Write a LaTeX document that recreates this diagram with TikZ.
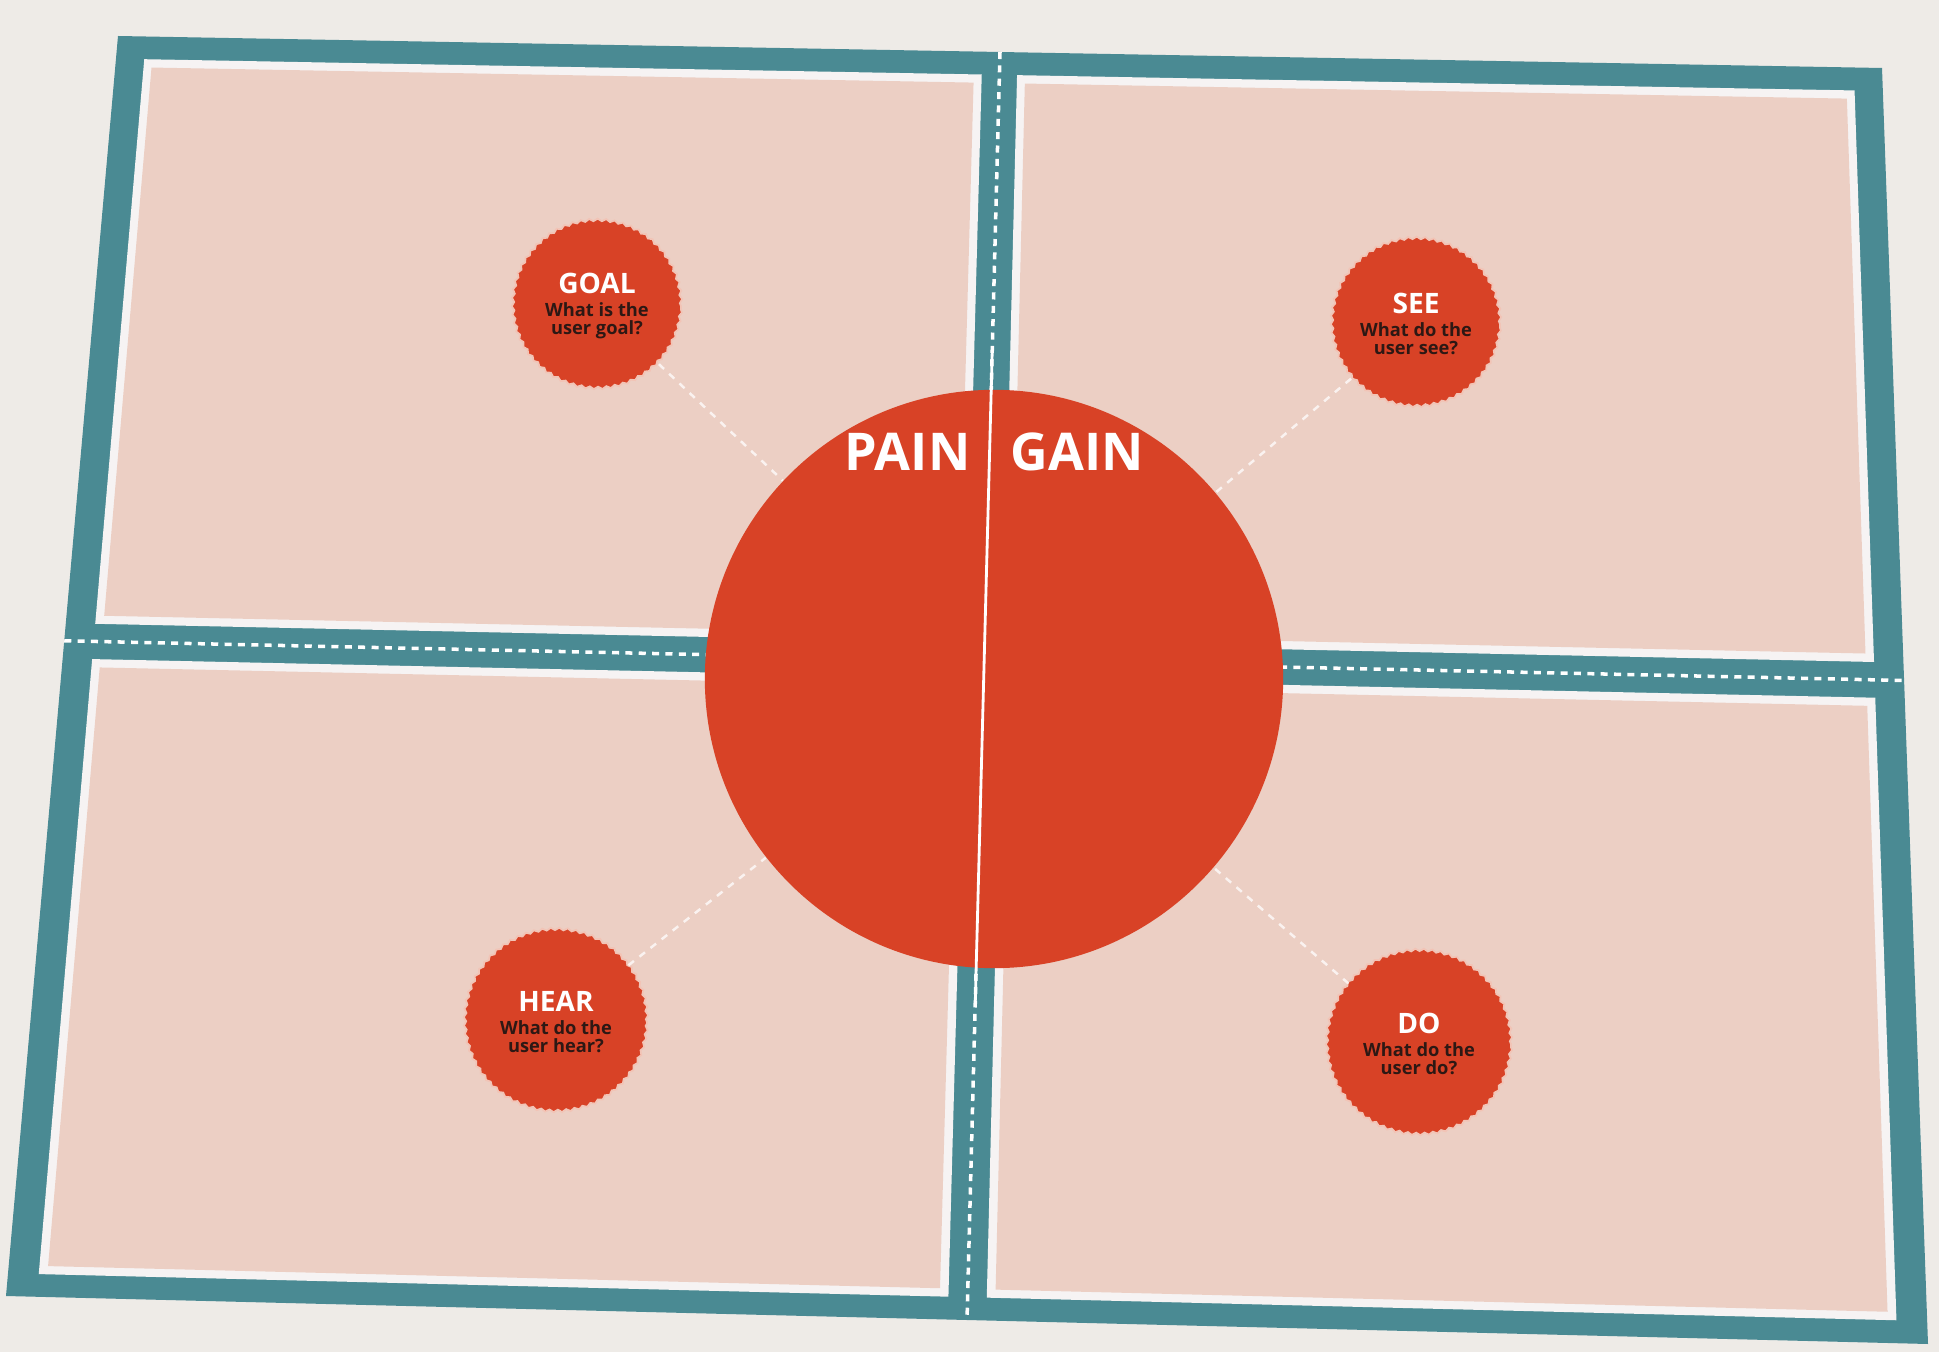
\documentclass[tikz,border=0pt]{standalone}
\usepackage{fontspec}
\setmainfont{Open Sans}
\usepackage{tikz}
\usetikzlibrary{positioning, calc, decorations.pathmorphing}

\definecolor{wallbg}{RGB}{238,235,231}
\definecolor{boardteal}{RGB}{74,138,147}
\definecolor{rimwhite}{RGB}{246,243,243}
\definecolor{panelpink}{RGB}{236,207,196}
\definecolor{mapred}{RGB}{216,66,38}
\definecolor{rimpink}{RGB}{242,196,182}
\definecolor{subink}{RGB}{45,24,20}

% point on the board, u across and v down (0..1)
\newcommand{\bq}[2]{($($(TL)!#1!(TR)$)!#2!($(BL)!#1!(BR)$)$)}
\newcommand{\asktitle}[1]{{\fontsize{8}{8}\selectfont\color{white}#1}}

\tikzset{
  divdash/.style={
    draw=white, line width=1pt, dash pattern=on 2pt off 1.8pt
  },
  bigdisc/.style={
    circle, fill=mapred, minimum size=5.78cm, inner sep=0pt
  },
  bigword/.style={
    text=white, inner sep=0pt,
    font=\fontsize{14.8}{15}\selectfont\bfseries
  },
  askdisc/.style={
    circle, fill=mapred, draw=rimpink, line width=0.5pt,
    inner sep=0pt, align=center, text=subink,
    decorate, decoration={snake, segment length=2.4pt, amplitude=0.35pt},
    font=\fontsize{5.2}{5.2}\selectfont\bfseries
  },
  linkdash/.style={
    draw=white, draw opacity=0.75, line width=0.7pt,
    dash pattern=on 2pt off 2pt
  },
}

\begin{document}
\begin{tikzpicture}[x=0.01cm, y=-0.01cm]
  % ── Paper and board ──
  \fill[wallbg] (0,0) rectangle (1939,1352);
  \useasboundingbox (0,0) rectangle (1939,1352);
  \coordinate (TL) at (118,36);
  \coordinate (TR) at (1882,68);
  \coordinate (BR) at (1928,1344);
  \coordinate (BL) at (6,1296);
  \fill[boardteal] (TL) -- (TR) -- (BR) -- (BL) -- cycle;

  % ── Quadrants ──
  \foreach \ua/\ub/\va/\vb in {0.016/0.490/0.018/0.466, 0.510/0.984/0.018/0.466,
                               0.016/0.490/0.494/0.982, 0.510/0.984/0.494/0.982} {
    \pgfmathsetmacro{\uc}{\ua+0.0045}
    \pgfmathsetmacro{\ud}{\ub-0.0045}
    \pgfmathsetmacro{\vc}{\va+0.0065}
    \pgfmathsetmacro{\vd}{\vb-0.0065}
    \fill[rimwhite] \bq{\ua}{\va} -- \bq{\ub}{\va} -- \bq{\ub}{\vb} -- \bq{\ua}{\vb} -- cycle;
    \fill[panelpink] \bq{\uc}{\vc} -- \bq{\ud}{\vc} -- \bq{\ud}{\vd} -- \bq{\uc}{\vd} -- cycle;
  }
  \draw[divdash] \bq{0.5}{0} -- \bq{0.5}{1};
  \draw[divdash] \bq{0}{0.48} -- \bq{1}{0.48};

  % ── Centre ──
  \node[bigdisc] (paingain) at (994,679) {};
  \draw[white, line width=0.8pt] \bq{0.5}{0.235} -- \bq{0.5}{0.75};
  \coordinate (split) at (991,452);
  \node[bigword, left=0.2cm of split] (pain) {PAIN};
  \node[bigword, right=0.19cm of split] (gain) {GAIN};

  % ── Questions ──
  \node[askdisc, minimum size=1.68cm] (goal) at (597,306) {\asktitle{GOAL}\\[1.4pt]What is the\\user goal?};
  \node[askdisc, minimum size=1.68cm] (see) at (1416,324) {\asktitle{SEE}\\[1.4pt]What do the\\user see?};
  \node[askdisc, minimum size=1.82cm] (hear) at (556,1022) {\asktitle{HEAR}\\[1.4pt]What do the\\user hear?};
  \node[askdisc, minimum size=1.84cm] (do) at (1419,1044) {\asktitle{DO}\\[1.4pt]What do the\\user do?};

  % ── Links ──
  \draw[linkdash] (goal) -- (paingain);
  \draw[linkdash] (see) -- (paingain);
  \draw[linkdash] (hear) -- (paingain);
  \draw[linkdash] (do) -- (paingain);
\end{tikzpicture}
\end{document}
